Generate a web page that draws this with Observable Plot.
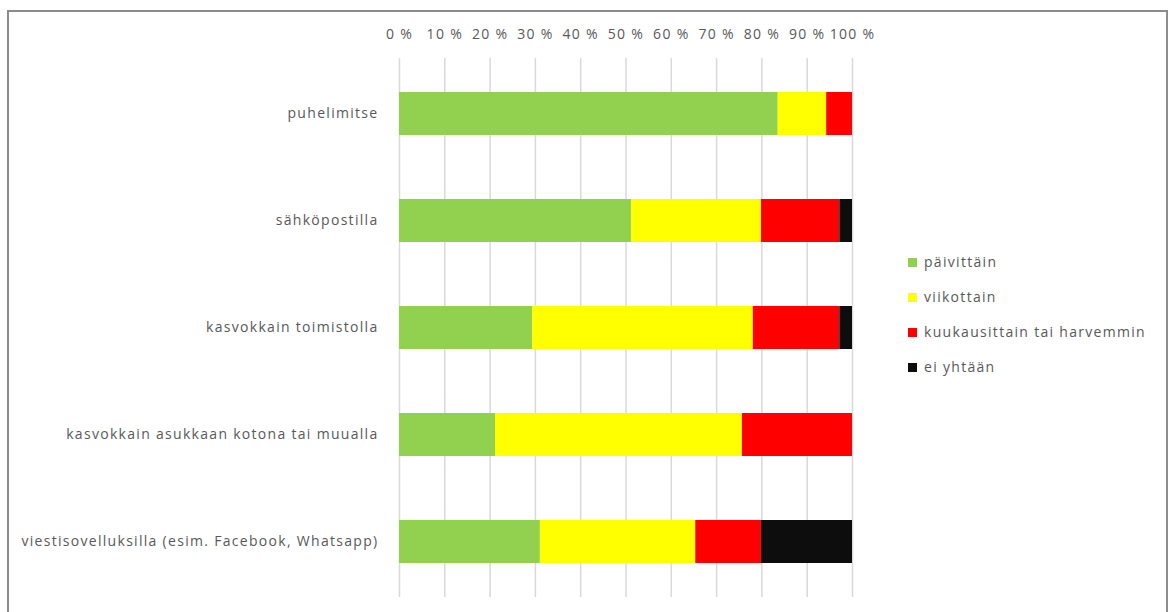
<!DOCTYPE html>
<html>
<head>
<meta charset="utf-8">
<script src="https://cdn.jsdelivr.net/npm/d3@7"></script>
<script src="https://cdn.jsdelivr.net/npm/@observablehq/plot@0.6"></script>
<style>
  html, body { margin: 0; padding: 0; background: #fff; }
  #wrap { position: relative; width: 1173px; height: 612px; overflow: hidden; font-family: "Open Sans", sans-serif; }
  #frame { position: absolute; left: 7px; top: 10px; width: 1157px; height: 640px; border: 2px solid #8c8c8c; }
  #chart { position: absolute; left: 0; top: 0; }
  #chart svg text { letter-spacing: 1.3px; }
  #legend { position: absolute; left: 908px; top: 252px; }
  .item { height: 35px; display: flex; align-items: flex-start; font-size: 14px; color: #595959; line-height: 20px; letter-spacing: 1.3px; }
  .sw { width: 9px; height: 9px; margin-right: 7px; margin-top: 6px; }
</style>
</head>
<body>
<div id="wrap">
  <div id="frame"></div>
  <div id="chart"></div>
  <div id="legend"></div>
</div>
<script>
const categories = [
  "puhelimitse",
  "sähköpostilla",
  "kasvokkain toimistolla",
  "kasvokkain asukkaan kotona tai muualla",
  "viestisovelluksilla (esim. Facebook, Whatsapp)"
];
const seriesNames = ["päivittäin", "viikottain", "kuukausittain tai harvemmin", "ei yhtään"];
const seriesColors = ["#92d050", "#ffff00", "#ff0000", "#0d0d0d"];
const paivittain    = [83.6, 51.2, 29.4, 21.2, 31.1];
const viikottain    = [10.7, 28.7, 48.7, 54.5, 34.3];
const kuukausittain = [5.7, 17.3, 19.1, 24.3, 14.5];
const eiYhtaan      = [0, 2.8, 2.8, 0, 20.1];
const xTicks = [0, 10, 20, 30, 40, 50, 60, 70, 80, 90, 100];

const seriesValues = [paivittain, viikottain, kuukausittain, eiYhtaan];
const rows = [];
seriesNames.forEach((s, si) => {
  categories.forEach((c, ci) => {
    rows.push({category: c, series: s, value: seriesValues[si][ci]});
  });
});

const chart = Plot.plot({
  width: 900,
  height: 612,
  marginLeft: 399,
  marginRight: 48,
  marginTop: 58,
  marginBottom: 15,
  style: {fontFamily: "'Open Sans', sans-serif", fontSize: "14px", color: "#595959", background: "transparent"},
  x: {domain: [0, 100], ticks: xTicks, axis: null, label: null},
  y: {domain: categories, paddingInner: 0.6, paddingOuter: 0.3, axis: null, label: null},
  color: {domain: seriesNames, range: seriesColors},
  marks: [
    Plot.gridX(xTicks, {stroke: "#d9d9d9", strokeOpacity: 1, strokeWidth: 1.5}),
    Plot.axisX(xTicks, {anchor: "top", tickSize: 0, tickPadding: 20, tickFormat: d => d + " %", fill: "#595959", fontSize: 14, label: null}),
    Plot.axisY({anchor: "left", tickSize: 0, tickPadding: 21, fill: "#595959", fontSize: 14, label: null}),
    Plot.barX(rows, Plot.stackX({x: "value", y: "category", fill: "series", order: seriesNames}))
  ]
});
document.getElementById("chart").appendChild(chart);

const legend = document.getElementById("legend");
seriesNames.forEach((s, i) => {
  const it = document.createElement("div");
  it.className = "item";
  const sw = document.createElement("div");
  sw.className = "sw";
  sw.style.background = seriesColors[i];
  const t = document.createElement("span");
  t.textContent = s;
  it.appendChild(sw);
  it.appendChild(t);
  legend.appendChild(it);
});
</script>
</body>
</html>
